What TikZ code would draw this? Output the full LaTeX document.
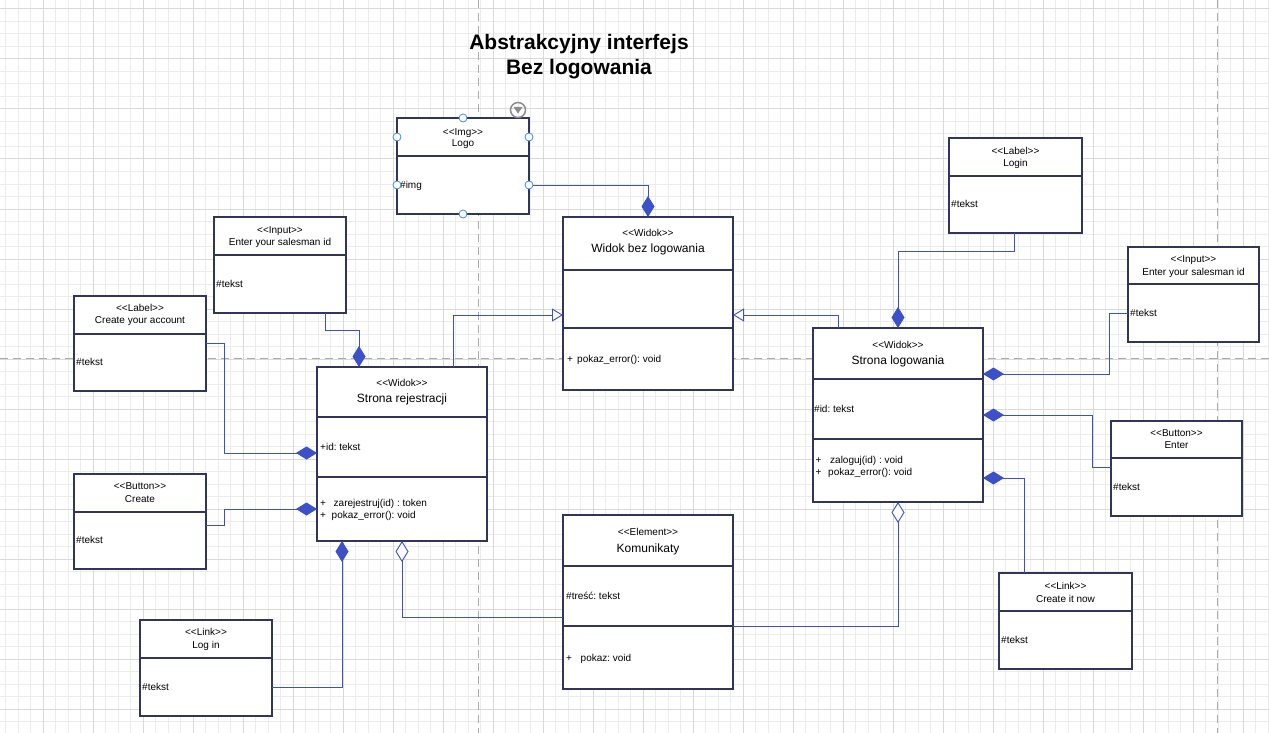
\documentclass[tikz,border=0pt]{standalone}
\usepackage{fontspec}
\setmainfont{Liberation Sans}
\usetikzlibrary{arrows.meta}
\frenchspacing
\definecolor{conncol}{RGB}{60,80,200}
\definecolor{boxcol}{RGB}{50,53,90}
\definecolor{minorcol}{RGB}{236,236,236}
\definecolor{majorcol}{RGB}{217,217,217}
\definecolor{dashcol}{RGB}{170,170,170}
\definecolor{handlecol}{RGB}{60,140,230}
\newcommand\umlbox[5]{\node[clsbox, anchor=north west, minimum width={(#4-#2)*1pt}, minimum height={(#5-#3)*1pt}] (#1) at (#2,#3) {};}
\newcommand\umldiv[2]{\draw[clsline] (#1.west |- 0,#2) -- (#1.east |- 0,#2);}
\newcommand\stq[1]{<\kern0pt<#1>\kern0pt>}
\begin{document}
\frenchspacing
\begin{tikzpicture}[x=1pt,y=-1pt,
  clsbox/.style={draw=boxcol, fill=white, line width=1.3pt, inner sep=0pt, outer sep=0pt},
  clsline/.style={draw=boxcol, line width=1.3pt},
  st/.style={font=\fontsize{10}{12}\selectfont, anchor=base, inner sep=0pt},
  nm/.style={font=\fontsize{10}{12}\selectfont, anchor=base, inner sep=0pt},
  bignm/.style={font=\fontsize{12}{14}\selectfont, anchor=base, inner sep=0pt},
  attr/.style={font=\fontsize{10}{12}\selectfont, anchor=base west, inner sep=0pt},
  conn/.style={draw=conncol, line width=0.9pt},
  comp/.style={conn, -{Diamond[length=21pt,width=13pt]}},
  aggr/.style={conn, -{Diamond[open,length=21pt,width=13pt,fill=white]}},
  gen/.style={conn, -{Triangle[open,length=11pt,width=13pt,fill=white]}},
  handle/.style={circle, draw=handlecol, fill=white, line width=0.8pt, minimum size=8pt, inner sep=0pt},
  minorg/.style={draw=minorcol, line width=1pt},
  majorg/.style={draw=majorcol, line width=1pt},
  guide/.style={draw=dashcol, line width=1pt, dash pattern=on 8pt off 5pt},
  ttl/.style={font=\fontsize{21}{25}\selectfont\bfseries, anchor=base, inner sep=0pt, text=black}
]
\useasboundingbox (0,0) rectangle (1269,733);
\fill[white] (0,0) rectangle (1269,733);
% grid
\foreach \k in {-3,...,98} {\draw[minorg] ({43+12.5*\k},0) -- ({43+12.5*\k},733);}
\foreach \k in {0,...,57} {\draw[minorg] (0,{9+12.5*\k}) -- (1269,{9+12.5*\k});}
\foreach \k in {0,...,24} {\draw[majorg] ({43+50*\k},0) -- ({43+50*\k},733);}
\foreach \k in {0,...,14} {\draw[majorg] (0,{9+50*\k}) -- (1269,{9+50*\k});}
\draw[guide] (478,0) -- (478,733);
\draw[guide] (1217,0) -- (1217,733);
\draw[guide] (0,358) -- (1269,358);

% title
\node[ttl] (title1) at (579,49.5) {Abstrakcyjny interfejs};
\node[ttl] (title2) at (579,74.5) {Bez logowania};

% boxes
\umlbox{logo}{397}{118}{529}{214}
\umldiv{logo}{156}
\node[st] (logo-st) at (463,135.2) {\stq{Img}};
\node[nm] (logo-nm) at (463,146.8) {Logo};
\node[attr] (logo-at) at (400,188.5) {\#img};

\umlbox{widok}{563}{217}{733}{390}
\umldiv{widok}{270}
\umldiv{widok}{328}
\node[st] (widok-st) at (648,236.5) {\stq{Widok}};
\node[bignm] (widok-nm) at (648,252.3) {Widok bez logowania};
\node[attr] (widok-m1) at (567,362.5) {\makebox[10pt][l]{+}pokaz\_error(): void};

\umlbox{strrej}{317}{367}{487}{541}
\umldiv{strrej}{417}
\umldiv{strrej}{477}
\node[st] (strrej-st) at (402,386.5) {\stq{Widok}};
\node[bignm] (strrej-nm) at (402,402.3) {Strona rejestracji};
\node[attr] (strrej-at) at (320,450.5) {+id: tekst};
\node[attr] (strrej-m1) at (320,506.5) {\makebox[13.5pt][l]{+}zarejestruj(id) : token};
\node[attr] (strrej-m2) at (320,518.5) {\makebox[11.5pt][l]{+}pokaz\_error(): void};

\umlbox{strlog}{813}{328}{983}{502}
\umldiv{strlog}{379}
\umldiv{strlog}{439}
\node[st] (strlog-st) at (898,348.5) {\stq{Widok}};
\node[bignm] (strlog-nm) at (898,364.3) {Strona logowania};
\node[attr] (strlog-at) at (814,412.5) {\#id: tekst};
\node[attr] (strlog-m1) at (815.5,463.5) {\makebox[14.5pt][l]{+}zaloguj(id) : void};
\node[attr] (strlog-m2) at (815.5,475.5) {\makebox[12.5pt][l]{+}pokaz\_error(): void};

\umlbox{kom}{563}{515}{733}{689}
\umldiv{kom}{566}
\umldiv{kom}{626}
\node[st] (kom-st) at (648,535.5) {\stq{Element}};
\node[bignm] (kom-nm) at (648,552.3) {Komunikaty};
\node[attr] (kom-at) at (566,599.5) {\#treść: tekst};
\node[attr] (kom-m1) at (566,661.5) {\makebox[14.5pt][l]{+}pokaz: void};

\umlbox{inputL}{214}{217}{346}{313}
\umldiv{inputL}{255}
\node[st] (inputL-st) at (280,233.5) {\stq{Input}};
\node[nm] (inputL-nm) at (280,245.8) {Enter your salesman id};
\node[attr] (inputL-at) at (216,287.5) {\#tekst};

\umlbox{labelCA}{74}{296}{206}{391}
\umldiv{labelCA}{334}
\node[st] (labelCA-st) at (140,311.8) {\stq{Label}};
\node[nm] (labelCA-nm) at (140,323.5) {Create your account};
\node[attr] (labelCA-at) at (76,365.8) {\#tekst};

\umlbox{btnCreate}{74}{474}{206}{569}
\umldiv{btnCreate}{512}
\node[st] (btnCreate-st) at (140,489.5) {\stq{Button}};
\node[nm] (btnCreate-nm) at (140,502.8) {Create};
\node[attr] (btnCreate-at) at (76,543.5) {\#tekst};

\umlbox{linkLogin}{140}{620}{272}{716}
\umldiv{linkLogin}{658}
\node[st] (linkLogin-st) at (206,635.8) {\stq{Link}};
\node[nm] (linkLogin-nm) at (206,648.5) {Log in};
\node[attr] (linkLogin-at) at (142,690.8) {\#tekst};

\umlbox{labelLogin}{949}{138}{1082}{233}
\umldiv{labelLogin}{176}
\node[st] (labelLogin-st) at (1015.5,154.2) {\stq{Label}};
\node[nm] (labelLogin-nm) at (1015.5,166.8) {Login};
\node[attr] (labelLogin-at) at (951,207.8) {\#tekst};

\umlbox{inputR}{1128}{247}{1259}{342}
\umldiv{inputR}{284}
\node[st] (inputR-st) at (1193.5,262.5) {\stq{Input}};
\node[nm] (inputR-nm) at (1193.5,275.2) {Enter your salesman id};
\node[attr] (inputR-at) at (1130,316.8) {\#tekst};

\umlbox{btnEnter}{1111}{421}{1242}{516}
\umldiv{btnEnter}{458}
\node[st] (btnEnter-st) at (1176.5,436.8) {\stq{Button}};
\node[nm] (btnEnter-nm) at (1176.5,448.5) {Enter};
\node[attr] (btnEnter-at) at (1113,490.8) {\#tekst};

\umlbox{linkCreate}{999}{573}{1132}{669}
\umldiv{linkCreate}{611}
\node[st] (linkCreate-st) at (1065.5,589.5) {\stq{Link}};
\node[nm] (linkCreate-nm) at (1065.5,602.5) {Create it now};
\node[attr] (linkCreate-at) at (1001,643.5) {\#tekst};

% connectors
\draw[comp] (logo.east |- 0,185) -| (widok.north);
\draw[comp] (inputL.south -| 325,0) -- (325,330) -| ([xshift=-43pt]strrej.north);
\draw[comp] (labelCA.east |- 0,343) -- (224,343) |- (strrej.west |- 0,453);
\draw[comp] (btnCreate.east |- 0,525) -- (224,525) |- (strrej.west |- 0,509);
\draw[comp] (linkLogin.east |- 0,687) -| ([xshift=-60pt]strrej.south);
\draw[aggr] (kom.west |- 0,617) -| (strrej.south);
\draw[aggr] (kom.east |- 0,626) -| (strlog.south);
\draw[gen] ([xshift=51pt]strrej.north) |- (widok.west |- 0,315);
\draw[gen] ([xshift=-60pt]strlog.north) |- (widok.east |- 0,315);
\draw[comp] (labelLogin.south -| 1014,0) -- (1014,251) -| (strlog.north);
\draw[comp] (inputR.west |- 0,313) -- (1109,313) |- (strlog.east |- 0,374);
\draw[comp] (btnEnter.west |- 0,467) -- (1092,467) |- (strlog.east |- 0,415);
\draw[comp] (linkCreate.north -| 1024,0) |- (strlog.east |- 0,478);

% selection handles on Logo
\node[handle] (h-top) at (463,118) {};
\node[handle] (h-bot) at (463,214) {};
\node[handle] (h-l1) at (397,137) {};
\node[handle] (h-r1) at (529,137) {};
\node[handle] (h-l2) at (397,185) {};
\node[handle] (h-r2) at (529,185) {};
\node[circle, draw=black!45, line width=1.5pt, minimum size=15pt, inner sep=0pt] (menu) at (518,110) {};
\fill[black!45] (513.5,107) -- (522.5,107) -- (518,113.5) -- cycle;
\end{tikzpicture}
\end{document}
